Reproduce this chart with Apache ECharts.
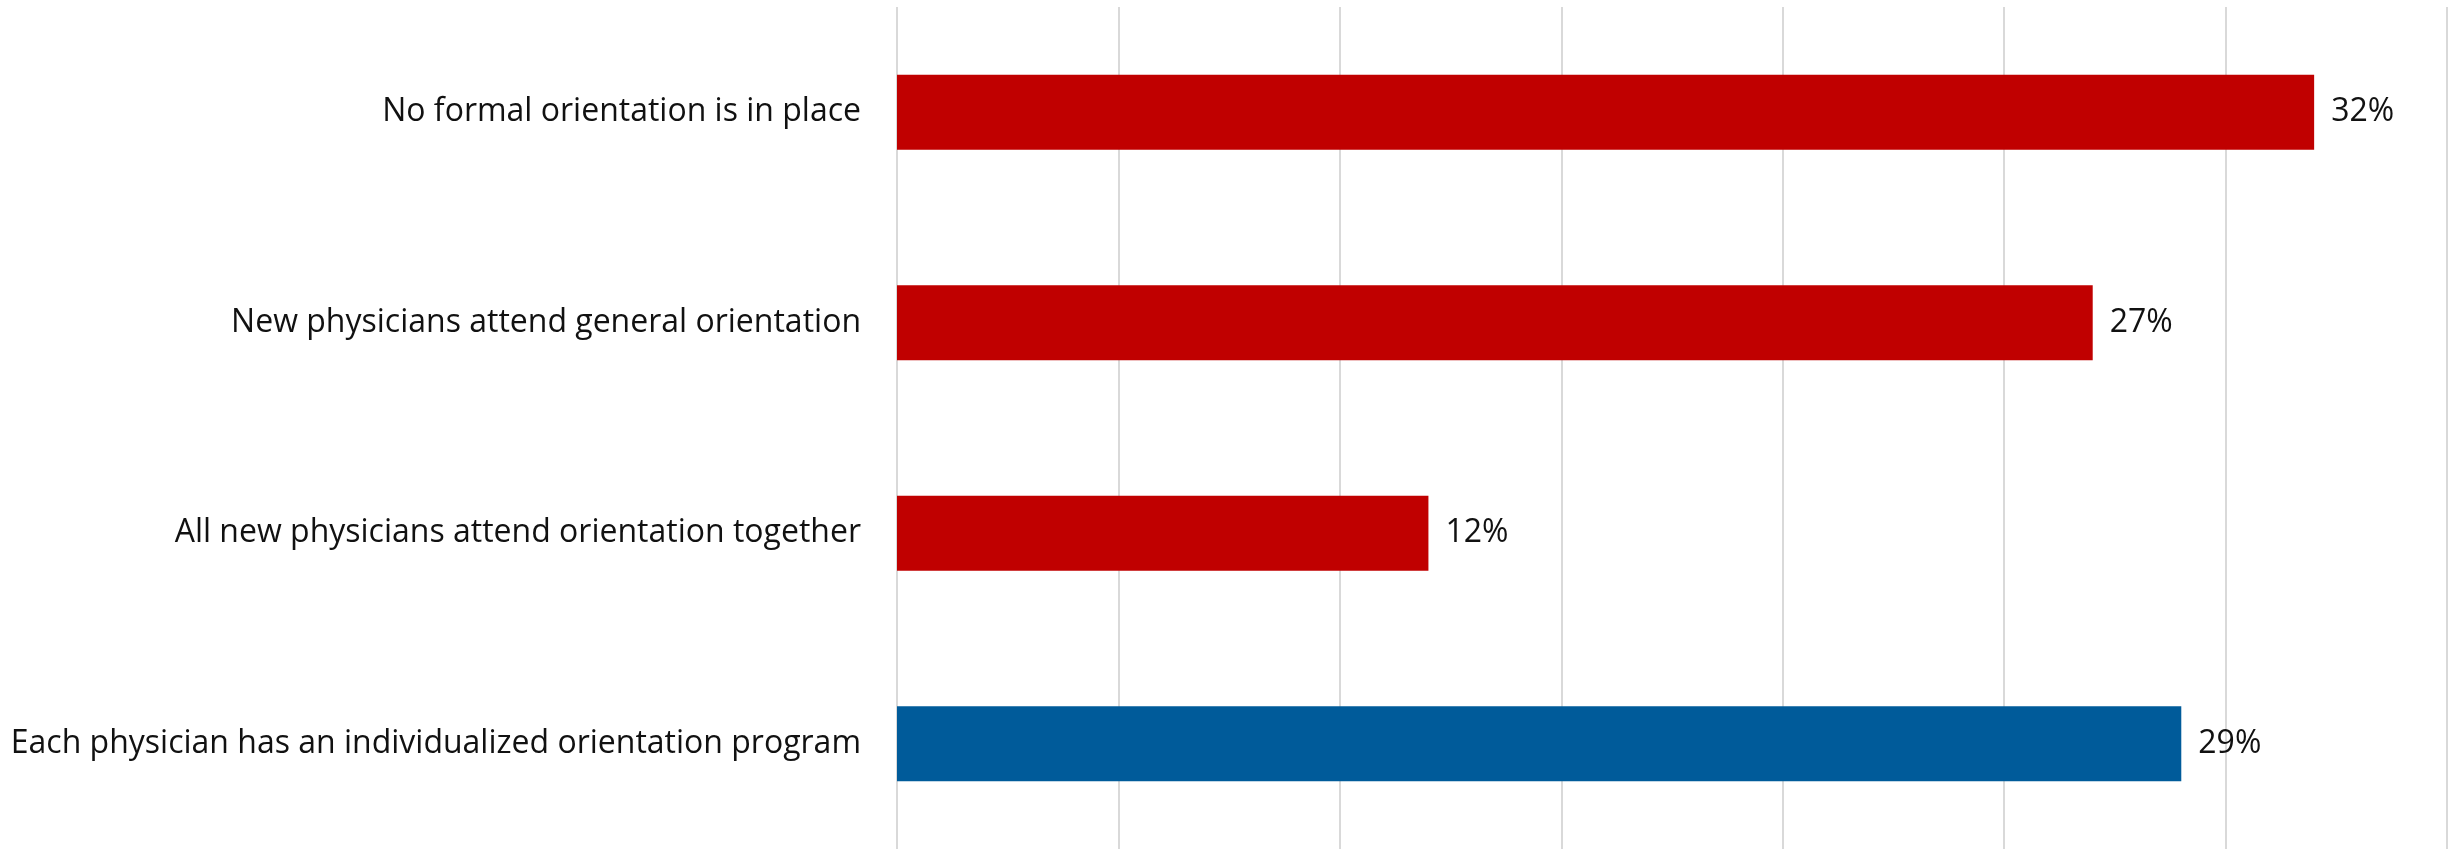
<!DOCTYPE html>
<html>
<head>
<meta charset="utf-8">
<script src="https://cdn.jsdelivr.net/npm/echarts@6/dist/echarts.min.js"></script>
<style>
  html, body { margin: 0; padding: 0; background: #fff; }
  #chart { width: 2458px; height: 849px; }
</style>
</head>
<body>
<div id="chart"></div>
<script>
// categories, top to bottom
var categories = [
    'No formal orientation is in place',
    'New physicians attend general orientation',
    'All new physicians attend orientation together',
    'Each physician has an individualized orientation program'
];
var percents = [32, 27, 12, 29];
var xTicks = [0, 5, 10, 15, 20, 25, 30, 35];

var myChart = echarts.init(document.getElementById('chart'));

myChart.setOption({
    animation: false,
    grid: {
        left: 897,
        right: 11,
        top: 7,
        height: 844
    },
    xAxis: {
        type: 'value',
        min: xTicks[0],
        max: xTicks[xTicks.length - 1],
        interval: xTicks[1] - xTicks[0],
        axisLabel: { show: false },
        axisLine: { show: false },
        axisTick: { show: false },
        splitLine: { lineStyle: { color: '#d9d9d9', width: 2 } }
    },
    yAxis: {
        type: 'category',
        inverse: true,
        data: categories,
        axisLine: { show: false },
        axisTick: { show: false },
        axisLabel: {
            margin: 36,
            fontFamily: 'Open Sans',
            fontSize: 32,
            color: '#111'
        }
    },
    series: [{
        type: 'bar',
        data: percents,
        barWidth: 75,
        itemStyle: {
            color: function (p) {
                return p.dataIndex === 3 ? '#005b9a' : '#c00000';
            }
        },
        label: {
            show: true,
            position: 'right',
            distance: 17,
            formatter: '{c}%',
            fontFamily: 'Open Sans',
            fontSize: 32,
            color: '#111'
        }
    }]
});
</script>
</body>
</html>
